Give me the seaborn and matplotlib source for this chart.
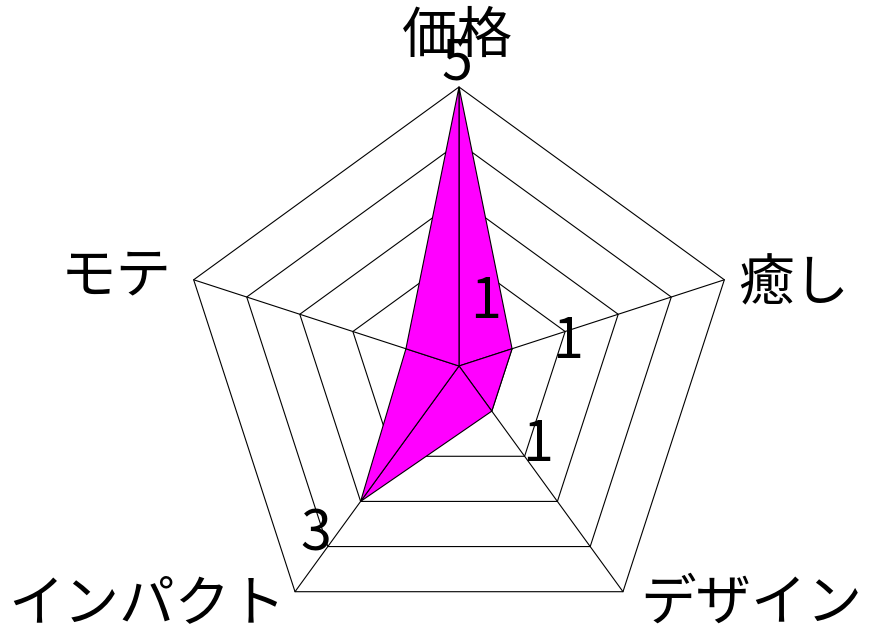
import numpy as np
import matplotlib
matplotlib.use('Agg')
import matplotlib.pyplot as plt
import seaborn as sns

sns.set_style('white')
plt.rcParams['font.family'] = ['Noto Sans CJK JP', 'DejaVu Sans']
plt.rcParams['text.color'] = 'black'

categories = ['価格', '癒し', 'デザイン', 'インパクト', 'モテ']
values = [5, 1, 1, 3, 1]
levels = [1, 2, 3, 4, 5]
value_labels = ['5', '1', '1', '3', '1']

# angles start at top, go clockwise
angles = np.deg2rad(90 - 72 * np.arange(len(categories)))
dirs = np.column_stack([np.cos(angles), np.sin(angles)])

fig = plt.figure(figsize=(8.79, 6.33), dpi=100)
ax = fig.add_axes([0, 0, 1, 1])
ax.set_xlim(-8.226, 7.527)
ax.set_ylim(-4.785, 6.559)
ax.set_aspect('equal')
ax.axis('off')

# grid rings
for lv in levels:
    ring = np.vstack([dirs * lv, dirs[:1] * lv])
    sns.lineplot(x=ring[:, 0], y=ring[:, 1], sort=False, estimator=None,
                 color='black', lw=0.8, ax=ax)

# spokes
rmax = max(levels)
for d in dirs:
    sns.lineplot(x=[0, d[0] * rmax], y=[0, d[1] * rmax], sort=False,
                 estimator=None, color='black', lw=0.8, ax=ax)

# data polygon as fan of triangles
pts = dirs * np.array(values)[:, None]
n = len(pts)
for i in range(n):
    tri = np.array([[0, 0], pts[i], pts[(i + 1) % n]])
    ax.fill(tri[:, 0], tri[:, 1], facecolor='#ff00ff', edgecolor='black', lw=0.8, zorder=3)

# category labels
cat_pos = [(-0.03, 5.9), (6.0, 1.45), (5.24, -4.27), (-5.6, -4.27), (-6.15, 1.6)]
for name, (x, y) in zip(categories, cat_pos):
    ax.text(x, y, name, fontsize=40, color='black',
            ha='center', va='center', zorder=4)

# value labels
val_pos = [(-0.03, 5.42), (1.95, 0.43), (1.40, -1.42), (-2.56, -3.03), (0.48, 1.15)]
for lab, (x, y) in zip(value_labels, val_pos):
    ax.text(x, y, lab, fontsize=40, color='black',
            ha='center', va='center', zorder=5)

plt.savefig('out.png', dpi=100)
plt.close()
